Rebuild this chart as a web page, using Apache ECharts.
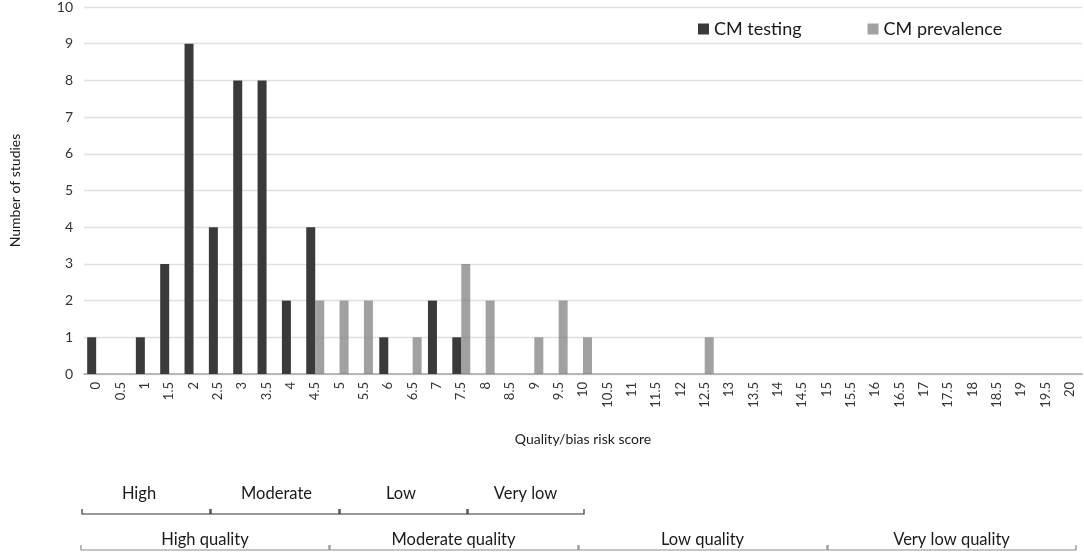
<!DOCTYPE html>
<html>
<head>
<meta charset="utf-8">
<script src="https://cdn.jsdelivr.net/npm/echarts@6/dist/echarts.min.js"></script>
<style>html,body{margin:0;padding:0;background:#fff}#c{width:1084px;height:555px}</style>
</head>
<body>
<div id="c"></div>
<script>
const scores = ['0','0.5','1','1.5','2','2.5','3','3.5','4','4.5','5','5.5','6','6.5','7','7.5','8','8.5','9','9.5','10','10.5','11','11.5','12','12.5','13','13.5','14','14.5','15','15.5','16','16.5','17','17.5','18','18.5','19','19.5','20'];
const cmTesting =    [1,0,1,3,9,4,8,8,2,4,0,0,1,0,2,1,0,0,0,0,0,0,0,0,0,0,0,0,0,0,0,0,0,0,0,0,0,0,0,0,0];
const cmPrevalence = [0,0,0,0,0,0,0,0,0,2,2,2,0,1,0,3,2,0,1,2,1,0,0,0,0,1,0,0,0,0,0,0,0,0,0,0,0,0,0,0,0];
const yTicks = [0,10,1];
const riskLabels = ['High','Moderate','Low','Very low'];
const qualityLabels = ['High quality','Moderate quality','Low quality','Very low quality'];

const FONT = 'Lato, "Open Sans", sans-serif';
const chart = echarts.init(document.getElementById('c'));

function bracket(x1, x2, y, color) {
  return {
    type: 'polyline',
    shape: { points: [[x1, y - 5], [x1, y], [x2, y], [x2, y - 5]] },
    style: { stroke: color, lineWidth: 1.2, fill: null }
  };
}
const row1 = [82, 210, 339, 467, 584];
const row2 = [81, 329, 578, 827, 1076];
const graphics = [];
for (let i = 0; i < 4; i++) {
  graphics.push(bracket(row1[i] + (i ? 1 : 0), row1[i + 1], 514, '#333'));
  graphics.push({ type: 'text', x: (row1[i] + row1[i + 1]) / 2 + [-7, 2, -2, 0][i], y: 494,
    style: { text: riskLabels[i], font: '16.5px ' + FONT, fill: '#1a1a1a', align: 'center', verticalAlign: 'middle' } });
  graphics.push(bracket(row2[i] + (i ? 1 : 0), row2[i + 1], 550, '#8c8c8c'));
  graphics.push({ type: 'text', x: (row2[i] + row2[i + 1]) / 2, y: 540,
    style: { text: qualityLabels[i], font: '16.5px ' + FONT, fill: '#1a1a1a', align: 'center', verticalAlign: 'middle' } });
}

chart.setOption({
  animation: false,
  textStyle: { fontFamily: FONT },
  grid: { left: 77, right: 2, top: 7, bottom: 181 },
  legend: {
    left: 693, top: 15, itemWidth: 11, itemHeight: 11, itemGap: 66, icon: 'rect',
    textStyle: { fontSize: 18, color: '#1a1a1a', fontFamily: FONT },
    data: ['CM testing', 'CM prevalence']
  },
  xAxis: {
    type: 'category', data: scores,
    name: 'Quality/bias risk score', nameLocation: 'middle', nameGap: 58,
    nameTextStyle: { fontSize: 14, color: '#1a1a1a' },
    axisTick: { show: false },
    axisLine: { lineStyle: { color: '#a6a6a6', width: 1.5 } },
    axisLabel: { rotate: 90, interval: 0, fontSize: 13, color: '#333', margin: 8 }
  },
  yAxis: {
    type: 'value', min: yTicks[0], max: yTicks[1], interval: yTicks[2],
    name: 'Number of studies', nameLocation: 'middle', nameGap: 62,
    nameTextStyle: { fontSize: 14, color: '#1a1a1a' },
    axisLine: { show: false }, axisTick: { show: false },
    axisLabel: { fontSize: 14, color: '#333', margin: 11 },
    splitLine: { lineStyle: { color: '#e0e0e0', width: 1.3 } }
  },
  series: [
    { name: 'CM testing', type: 'bar', data: cmTesting, barWidth: 9, barGap: '0%',
      itemStyle: { color: '#3a3a3a' } },
    { name: 'CM prevalence', type: 'bar', data: cmPrevalence, barWidth: 9,
      itemStyle: { color: 'rgba(125,125,125,0.72)' } }
  ],
  graphic: graphics
});
</script>
</body>
</html>
